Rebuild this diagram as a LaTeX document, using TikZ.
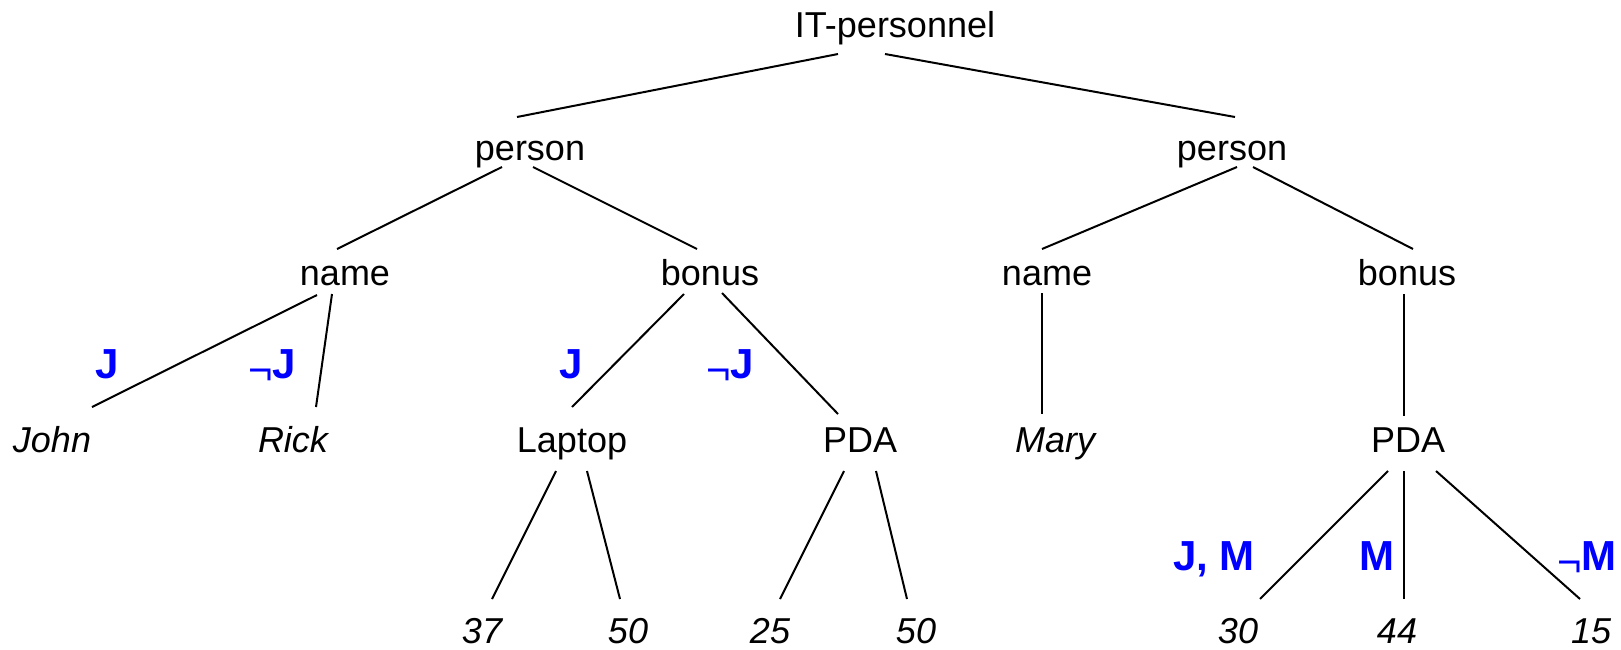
\documentclass[tikz,border=0pt]{standalone}
\usepackage{fontspec}
\setmainfont{Liberation Sans}
\newcommand{\negsign}{\raisebox{-0.16em}{\mdseries ¬}}
\begin{document}
\begin{tikzpicture}[x=0.5pt,y=-0.5pt,line width=1pt,
    every node/.style={inner sep=0pt,anchor=base,font=\fontsize{18}{21}\selectfont},
    leaf/.style={font=\fontsize{18}{21}\selectfont\itshape},
    cond/.style={text=blue,font=\fontsize{21}{25}\selectfont\bfseries}]
      \useasboundingbox (0,0) rectangle (1621,649);
      \draw
        (895,37) node (it){IT-personnel}
        (530,160) node (personL){person}
        (1232,160) node (personR){person}
        (345,285) node (nameL){name}
        (710,285) node (bonusL){bonus}
        (1047,285) node (nameR){name}
        (1407,285) node (bonusR){bonus}
        (52,452) node[leaf] (john){John}
        (293,452) node[leaf] (rick){Rick}
        (572,452) node (laptop){Laptop}
        (860,452) node (pdaL){PDA}
        (1055,452) node[leaf] (mary){Mary}
        (1408,452) node (pdaR){PDA}
        (482,643) node[leaf] (v37){37}
        (628,643) node[leaf] (v50a){50}
        (770,643) node[leaf] (v25){25}
        (916,643) node[leaf] (v50b){50}
        (1238,643) node[leaf] (v30){30}
        (1397,643) node[leaf] (v44){44}
        (1591,643) node[leaf] (v15){15};
      \draw
        (107,378) node[cond] (cJa){J}
        (272,378) node[cond] (cNJa){\negsign J}
        (571,378) node[cond] (cJb){J}
        (730,378) node[cond] (cNJb){\negsign J}
        (1214,570) node[cond] (cJM){J, M}
        (1377,570) node[cond] (cM){M}
        (1587,570) node[cond] (cNM){\negsign M};
      \begin{scope}[-]
        \draw ([shift={(-57,17)}]it.base) to ([shift={(-13,-43)}]personL.base);
        \draw ([shift={(-10,17)}]it.base) to ([shift={(3,-43)}]personR.base);
        \draw ([shift={(-28,7)}]personL.base) to ([shift={(-8,-36)}]nameL.base);
        \draw ([shift={(3,7)}]personL.base) to ([shift={(-13,-36)}]bonusL.base);
        \draw ([shift={(5,7)}]personR.base) to ([shift={(-5,-36)}]nameR.base);
        \draw ([shift={(21,7)}]personR.base) to ([shift={(6,-36)}]bonusR.base);
        \draw ([shift={(-28,10)}]nameL.base) to ([shift={(40,-45)}]john.base);
        \draw ([shift={(-13,9)}]nameL.base) to ([shift={(23,-45)}]rick.base);
        \draw ([shift={(-26,9)}]bonusL.base) to ([shift={(0,-45)}]laptop.base);
        \draw ([shift={(12,8)}]bonusL.base) to ([shift={(-22,-38)}]pdaL.base);
        \draw ([shift={(-5,8)}]nameR.base) to ([shift={(-13,-38)}]mary.base);
        \draw ([shift={(-3,9)}]bonusR.base) to ([shift={(-4,-36)}]pdaR.base);
        \draw ([shift={(-16,19)}]laptop.base) to ([shift={(10,-44)}]v37.base);
        \draw ([shift={(15,19)}]laptop.base) to ([shift={(-8,-44)}]v50a.base);
        \draw ([shift={(-16,19)}]pdaL.base) to ([shift={(10,-44)}]v25.base);
        \draw ([shift={(16,19)}]pdaL.base) to ([shift={(-9,-44)}]v50b.base);
        \draw ([shift={(-20,19)}]pdaR.base) to ([shift={(22,-44)}]v30.base);
        \draw ([shift={(-4,19)}]pdaR.base) to ([shift={(7,-44)}]v44.base);
        \draw ([shift={(28,19)}]pdaR.base) to ([shift={(-11,-44)}]v15.base);
      \end{scope}
    \end{tikzpicture}
\end{document}
